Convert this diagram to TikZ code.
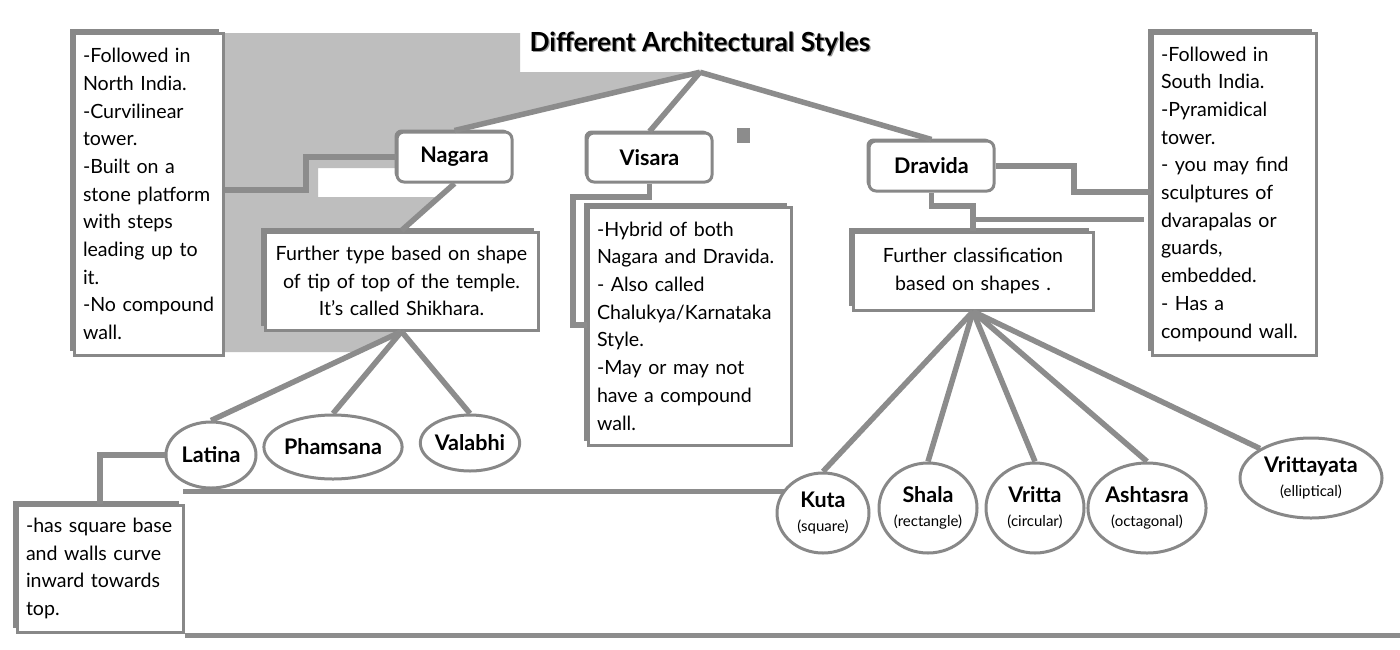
\documentclass[tikz,border=0pt]{standalone}
\usepackage{fontspec}
\setmainfont{Lato}
\usetikzlibrary{shapes.geometric,shadows}
\definecolor{linegray}{RGB}{140,140,140}
\definecolor{framegray}{RGB}{136,136,136}
\definecolor{lightfill}{RGB}{190,190,190}
\newcommand\subl[1]{{\fontsize{15}{17}\selectfont\mdseries #1}}
\begin{document}
\begin{tikzpicture}[x=1pt,y=-1pt,
 conn/.style={draw=linegray,line width=5.5pt},
 ghost/.style={draw=linegray,line width=5pt},
 infobox/.style={draw=framegray,line width=3pt,fill=white,inner xsep=9pt,inner ysep=0pt,
   font=\fontsize{19.6}{27.7}\selectfont,
   general shadow={fill=framegray,shadow xshift=-4pt,shadow yshift=4pt}},
 rbox/.style={draw=framegray,line width=3pt,fill=white,rounded corners=7pt,inner sep=0pt,
   font=\fontsize{21.5}{24}\selectfont\bfseries,
   general shadow={fill=framegray,shadow xshift=-2.5pt,shadow yshift=2.5pt}},
 oval/.style={ellipse,draw=framegray,line width=3pt,fill=white,inner sep=0pt,align=center,
   font=\fontsize{21.5}{24}\selectfont\bfseries},
 titlefont/.style={font=\fontsize{26.3}{30}\selectfont\bfseries}
]
\useasboundingbox (0,0) rectangle (1400,649);
\fill[white] (0,0) rectangle (1400,649);
% light grey shaded region
\fill[lightfill] (223,33) -- (520,33) -- (520,72) -- (700,72) -- (454.5,132) -- (397,132)
  -- (397,168) -- (318,168) -- (318,197) -- (437,197) -- (401.5,232) -- (265,232)
  -- (265,330) -- (401.5,330) -- (355,352) -- (223,352) -- cycle;
% stray grey strokes
\draw[ghost] (183,491) -- (790,491);
\draw[ghost] (185,635) -- (1400,635);
\draw[ghost] (973,219) -- (1144,219);
\fill[linegray] (737,128) rectangle (750,143);

% title
\node[titlefont,text=black!40,minimum height=56pt,inner sep=0pt] (titleshadow) at (701.2,45.2) {Different Architectural Styles};
\node[titlefont,minimum height=56pt,inner sep=0pt] (title) at (700,44) {Different Architectural Styles};

% main styles
\node[rbox,minimum width=115pt,minimum height=50pt] (nagara) at (454.5,157) {Nagara};
\node[rbox,minimum width=125pt,minimum height=49pt] (visara) at (649.5,157.5) {Visara};
\node[rbox,minimum width=125pt,minimum height=50pt] (dravida) at (931.5,166) {Dravida};

% info boxes
\node[infobox,text width=131pt,minimum height=322pt,align=left] (leftbox) at (148.5,194)
 {-Followed~in\\North~India.\\-Curvilinear\\tower.\\-Built~on~a\\stone~platform\\with~steps\\leading~up~to\\it.\\-No~compound\\wall.};
\node[infobox,text width=146pt,minimum height=322pt,align=left] (rightbox) at (1234,194)
 {-Followed~in\\South~India.\\-Pyramidical\\tower.\\-~you~may~find\\sculptures~of\\dvarapalas~or\\guards,\\embedded.\\-~Has~a\\compound~wall.};
\node[infobox,text width=255pt,minimum height=98pt,align=center] (ftype) at (401.5,281)
 {Further~type~based~on~shape\\of~tip~of~top~of~the~temple.\\It's~called~Shikhara.};
\node[infobox,text width=185pt,minimum height=238pt,align=left] (hybrid) at (689.5,326)
 {-Hybrid~of~both\\Nagara~and~Dravida.\\-~Also~called\\Chalukya/Karnataka\\Style.\\-May~or~may~not\\have~a~compound\\wall.};
\node[infobox,text width=222pt,minimum height=78pt,align=center] (fclass) at (973,271)
 {Further~classification\\based~on~shapes~.};
\node[infobox,text width=148pt,minimum height=127pt,align=left] (sqbox) at (100,568.5)
 {-has~square~base\\and~walls~curve\\inward~towards\\top.};

% shikhara types
\node[oval,minimum width=90pt,minimum height=66pt] (latina) at (211,455) {Latina};
\node[oval,minimum width=120pt,minimum height=64pt] (phamsana) at (333,447) {Phamsana};
\node[oval,minimum width=92pt,minimum height=56pt] (valabhi) at (470,443) {Valabhi};

% dravida shapes
\node[oval,minimum width=92pt,minimum height=80pt] (kuta) at (823,513) {Kuta\\\subl{(square)}};
\node[oval,minimum width=98pt,minimum height=90pt] (shala) at (928,508) {Shala\\\subl{(rectangle)}};
\node[oval,minimum width=98pt,minimum height=90pt] (vritta) at (1035,508) {Vritta\\\subl{(circular)}};
\node[oval,minimum width=104pt,minimum height=90pt] (ashtasra) at (1147,508) {Ashtasra\\\subl{(octagonal)}};
\node[oval,minimum width=142pt,minimum height=80pt] (vrittayata) at (1311,478) {Vrittayata\\\subl{(elliptical)}};

% connectors
\draw[conn] (title.south) -- (nagara.north);
\draw[conn] (title.south) -- (visara.north);
\draw[conn] (title.south) -- (dravida.north);

\coordinate (k1) at (306,157);
\coordinate (k2) at (306,190);
\draw[conn] (nagara.west) -- (k1) -- (k2) -- (k2 -| leftbox.east);
\draw[conn] (nagara.south) -- (ftype.north);

\coordinate (v1) at (573,197);
\coordinate (v2) at (573,325);
\draw[conn] (visara.south) |- (v1) -- (v2) -- (v2 -| hybrid.west);

\coordinate (r1) at (1074,166);
\coordinate (r2) at (1074,192);
\draw[conn] (dravida.east) -- (r1) -- (r2) -- (r2 -| rightbox.west);

\coordinate (d1) at (973,206);
\draw[conn] (dravida.south) |- (d1) -- (fclass.north);

\draw[conn] (ftype.south) -- (latina.north);
\draw[conn] (ftype.south) -- (phamsana.north);
\draw[conn] (ftype.south) -- (valabhi.north);
\draw[conn] (latina.west) -| (sqbox.north);

\draw[conn] (fclass.south) -- (kuta.north);
\draw[conn] (fclass.south) -- (shala.north);
\draw[conn] (fclass.south) -- (vritta.north);
\draw[conn] (fclass.south) -- (ashtasra.north);
\draw[conn] (fclass.south) -- (vrittayata.150);
\end{tikzpicture}
\end{document}
